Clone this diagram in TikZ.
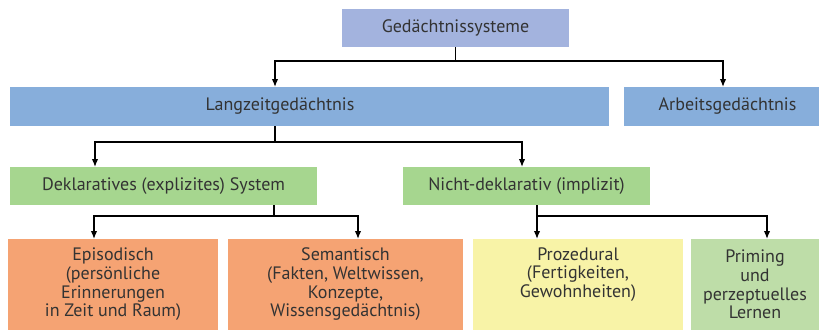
\documentclass[tikz,border=0pt]{standalone}
\usepackage{fontspec}
\setmainfont{PT Sans}
\usetikzlibrary{arrows.meta}
\definecolor{topblue}{HTML}{A3B3DE}
\definecolor{ltmblue}{HTML}{87AEDB}
\definecolor{declgreen}{HTML}{A6D68F}
\definecolor{episorange}{HTML}{F5A373}
\definecolor{procyellow}{HTML}{F8F3A7}
\definecolor{primgreen}{HTML}{BEDDA8}
\definecolor{txtgray}{HTML}{333333}
\tikzset{
  box/.style={inner sep=0pt, outer sep=0pt, text=txtgray, font=\fontsize{18}{18.7}\selectfont},
  bigbox/.style={box, minimum height=91pt, align=center},
  arr/.style={draw=black, line width=1.4pt, -{Latex[length=8pt,width=6.5pt]}}
}
\begin{document}
\begin{tikzpicture}[x=1pt,y=-1pt]
  \useasboundingbox (0,0) rectangle (819,330);
  % boxes
  \node[box, fill=topblue, minimum width=227pt, minimum height=38pt] (gs) at (455.5,28) {Gedächtnissysteme};
  \node[box, fill=ltmblue, minimum width=599pt, minimum height=39pt] (lz) at (309.5,106.5) {\hspace*{-59pt}Langzeitgedächtnis};
  \node[box, fill=ltmblue, minimum width=195pt, minimum height=39pt] (ar) at (721.5,106.5) {\hspace*{12pt}Arbeitsgedächtnis};
  \node[box, fill=declgreen, minimum width=307pt, minimum height=38pt] (dk) at (163.5,186) {Deklaratives (explizites) System};
  \node[box, fill=declgreen, minimum width=247pt, minimum height=38pt] (nd) at (526.5,186) {Nicht-deklarativ (implizit)};
  \node[bigbox, fill=episorange, minimum width=210pt] (ep) at (113,284.5) {Episodisch\\(persönliche\\Erinnerungen\\in Zeit und Raum)};
  \node[bigbox, fill=episorange, minimum width=235pt] (se) at (345.5,284.5) {Semantisch\\(Fakten, Weltwissen,\\Konzepte,\\Wissensgedächtnis)};
  \node[bigbox, fill=procyellow, minimum width=210pt] (pr) at (578,284.5) {Prozedural\\(Fertigkeiten,\\Gewohnheiten)\\\strut};
  \node[bigbox, fill=primgreen, minimum width=128pt] (pm) at (755,284.5) {Priming\\und\\perzeptuelles\\Lernen};
  % connectors
  \draw[arr] (gs.south) -- ++(0,14) -| (lz.north -| 275,0);
  \draw[arr] (gs.south) -- ++(0,14) -| (ar.north -| 723,0);
  \draw[arr] (lz.south -| 275,0) -- ++(0,16) -| (dk.north -| 95,0);
  \draw[arr] (lz.south -| 275,0) -- ++(0,16) -| (nd.north -| 522,0);
  \draw[arr] (dk.south -| 274,0) -- ++(0,11) -| (ep.north -| 94,0);
  \draw[arr] (dk.south -| 274,0) -- ++(0,11) -| (se.north -| 358,0);
  \draw[arr] (nd.south -| 537,0) -- (pr.north -| 537,0);
  \draw[arr] (nd.south -| 537,0) -- ++(0,11) -| (pm.north -| 767,0);
\end{tikzpicture}
\end{document}
